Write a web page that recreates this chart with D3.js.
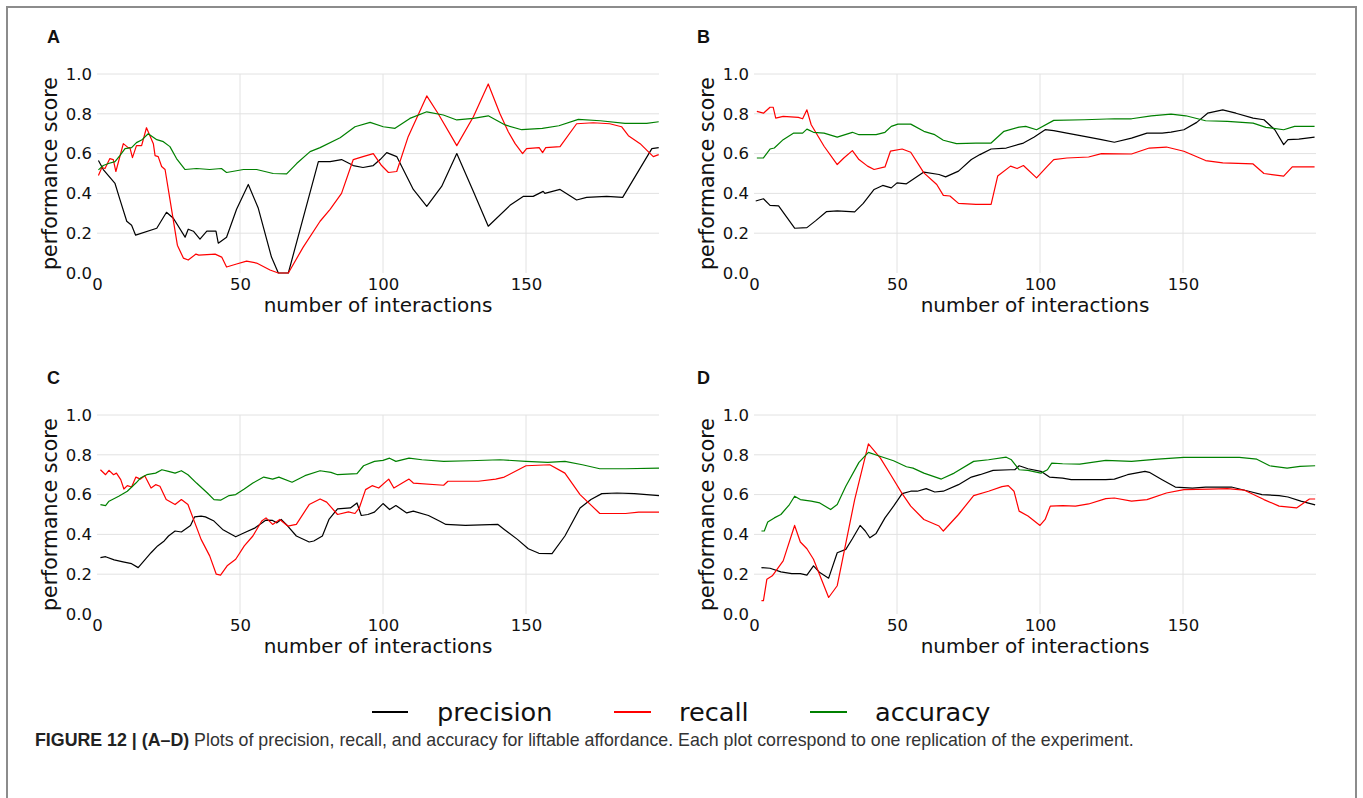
<!DOCTYPE html>
<html>
<head>
<meta charset="utf-8">
<script src="https://cdn.jsdelivr.net/npm/d3@7"></script>
<style>
  html, body { margin: 0; padding: 0; background: #fff; }
  svg { display: block; }
</style>
</head>
<body>
<svg id="chart" width="1363" height="798"></svg>
<script>
// ---------------- DATA ----------------
const panelLetters = ["A", "B", "C", "D"];
const seriesNames = ["precision", "recall", "accuracy"];
const xTicks = [0, 50, 100, 150];
const yTicks = [0.0, 0.2, 0.4, 0.6, 0.8, 1.0];
const xLabel = "number of interactions";
const yLabel = "performance score";
const captionBold = "FIGURE 12 | (A–D)";
const captionText = " Plots of precision, recall, and accuracy for liftable affordance. Each plot correspond to one replication of the experiment.";

// Panel A
const A_precision_x = [0.5, 2.2, 6.3, 8, 10.4, 12.1, 13.5, 20.9, 24.3, 26.7, 30.8, 31.9, 33.7, 36, 38.4, 41.6, 42.4, 45.3, 48.8, 52.9, 56.4, 61, 63.4, 66.9, 77.4, 81.5, 85.5, 89.6, 93, 96.6, 99, 101.3, 104.8, 110.6, 115.3, 120.5, 125.8, 131.6, 136.8, 144.4, 149, 152.5, 156, 156.6, 161.9, 167.7, 171.2, 178.2, 183.8, 194, 196.4];
const A_precision_y = [0.565, 0.52, 0.45, 0.37, 0.26, 0.24, 0.19, 0.225, 0.305, 0.275, 0.18, 0.22, 0.21, 0.17, 0.21, 0.21, 0.15, 0.18, 0.32, 0.445, 0.325, 0.08, 0.0, 0.0, 0.56, 0.56, 0.57, 0.54, 0.53, 0.54, 0.57, 0.605, 0.585, 0.42, 0.335, 0.435, 0.60, 0.41, 0.235, 0.34, 0.385, 0.385, 0.41, 0.40, 0.42, 0.367, 0.38, 0.385, 0.38, 0.625, 0.63];
const A_recall_x = [0.5, 1.7, 2.8, 4.5, 5.7, 6.6, 9.2, 10.9, 11.5, 12.4, 13.8, 15.6, 17.3, 19.7, 20.3, 21.4, 22.6, 23.8, 25.5, 28.1, 30.2, 31.9, 34.6, 35.6, 41.3, 43.6, 45.3, 48.8, 52.3, 55.8, 60.5, 63.4, 66.9, 72.1, 78, 81.5, 85.5, 89.6, 93, 96.6, 99.5, 101.9, 104.8, 108.8, 115.3, 119.3, 125.8, 131.6, 136.8, 140.9, 143.8, 146.2, 148.8, 150.2, 154.6, 155.8, 156.9, 161.9, 167.7, 173.5, 179.3, 183.4, 185.8, 189.9, 194.5, 196.4];
const A_recall_y = [0.49, 0.53, 0.525, 0.575, 0.57, 0.51, 0.65, 0.63, 0.63, 0.58, 0.64, 0.64, 0.73, 0.65, 0.59, 0.585, 0.535, 0.52, 0.37, 0.14, 0.075, 0.065, 0.095, 0.09, 0.095, 0.08, 0.03, 0.045, 0.06, 0.05, 0.015, 0.0, 0.0, 0.13, 0.26, 0.32, 0.40, 0.57, 0.585, 0.60, 0.54, 0.505, 0.51, 0.685, 0.89, 0.80, 0.64, 0.785, 0.95, 0.80, 0.71, 0.65, 0.60, 0.625, 0.63, 0.605, 0.63, 0.635, 0.75, 0.755, 0.75, 0.735, 0.69, 0.65, 0.585, 0.595];
const A_accuracy_x = [0.5, 2.2, 4, 6.3, 8, 9.8, 12.1, 13.8, 15.6, 17.9, 20.9, 23.2, 25.5, 27.8, 30.8, 34.8, 39.4, 43.5, 45.3, 51.2, 55.8, 61.6, 66.3, 69.8, 74.5, 78, 85, 90.2, 95.5, 100.1, 104.2, 109.4, 115.3, 121.1, 125.8, 131.6, 136.8, 142.7, 148.5, 155.7, 161.5, 168.3, 176, 184.6, 192.2, 196.4];
const A_accuracy_y = [0.518, 0.54, 0.55, 0.56, 0.59, 0.625, 0.63, 0.655, 0.668, 0.70, 0.67, 0.66, 0.635, 0.575, 0.52, 0.525, 0.52, 0.525, 0.505, 0.52, 0.52, 0.50, 0.498, 0.55, 0.61, 0.63, 0.68, 0.735, 0.757, 0.735, 0.727, 0.777, 0.81, 0.794, 0.769, 0.777, 0.79, 0.744, 0.72, 0.727, 0.74, 0.772, 0.765, 0.752, 0.752, 0.76];

// Panel B
const B_precision_x = [0.6, 3.3, 5.6, 8.6, 14.2, 18.5, 21.5, 25.3, 29.1, 35.2, 38.2, 42, 45, 48, 50, 53.3, 59.4, 64.7, 67, 71.5, 76, 79, 82.9, 88.2, 94.2, 98, 101.8, 104.8, 109.4, 115.5, 121.5, 126, 132, 137.4, 142.7, 145.8, 150.3, 154.8, 158.6, 163.9, 168.5, 174.5, 178.3, 182.1, 185.2, 186.7, 190.5, 196];
const B_precision_y = [0.362, 0.373, 0.34, 0.337, 0.225, 0.228, 0.262, 0.308, 0.312, 0.307, 0.35, 0.42, 0.44, 0.428, 0.453, 0.448, 0.507, 0.495, 0.483, 0.512, 0.57, 0.595, 0.623, 0.628, 0.653, 0.683, 0.72, 0.715, 0.703, 0.687, 0.67, 0.657, 0.678, 0.703, 0.703, 0.708, 0.72, 0.757, 0.803, 0.82, 0.803, 0.778, 0.77, 0.72, 0.645, 0.67, 0.673, 0.683];
const B_recall_x = [1, 3.3, 5.6, 6.7, 7.6, 10.2, 15.5, 17, 18.5, 20, 24.5, 29.1, 31.4, 34.4, 36.7, 39.7, 42, 45.8, 47.7, 51.8, 54.8, 59.4, 63.9, 66.2, 68.5, 71.5, 77.6, 82.9, 85.2, 89.7, 92, 94.2, 98.8, 102.6, 104.8, 109.4, 117, 121.5, 132, 138.2, 144.2, 150.3, 157.9, 163.9, 174.5, 178.3, 185.2, 188.2, 196];
const B_recall_y = [0.812, 0.803, 0.833, 0.833, 0.778, 0.787, 0.782, 0.775, 0.82, 0.745, 0.637, 0.545, 0.578, 0.615, 0.57, 0.537, 0.52, 0.533, 0.612, 0.623, 0.607, 0.503, 0.445, 0.39, 0.387, 0.35, 0.345, 0.345, 0.487, 0.537, 0.525, 0.54, 0.478, 0.537, 0.57, 0.578, 0.583, 0.60, 0.598, 0.628, 0.633, 0.612, 0.565, 0.553, 0.548, 0.50, 0.487, 0.533, 0.533];
const B_accuracy_x = [1, 3.3, 5.6, 7.1, 10.2, 13.9, 17, 18.5, 20.8, 24.5, 29.1, 34.4, 36.7, 42.7, 45.8, 48, 50.3, 54.8, 59.4, 63.2, 66.2, 70.8, 77.6, 82.9, 87.4, 92.7, 95, 98.8, 104.8, 115.5, 126, 132, 138.9, 145.8, 151, 157.9, 165.5, 174.5, 179, 185.2, 189, 196];
const B_accuracy_y = [0.578, 0.578, 0.623, 0.628, 0.67, 0.703, 0.703, 0.723, 0.707, 0.703, 0.683, 0.707, 0.695, 0.695, 0.707, 0.737, 0.748, 0.748, 0.712, 0.695, 0.667, 0.65, 0.653, 0.653, 0.712, 0.733, 0.737, 0.72, 0.767, 0.77, 0.775, 0.775, 0.79, 0.798, 0.79, 0.765, 0.762, 0.753, 0.732, 0.72, 0.737, 0.737];

// Panel C
const C_precision_x = [1.2, 3, 6, 9.1, 12.1, 14.4, 15.9, 18.9, 21.2, 23.5, 25, 27.3, 29.5, 32.7, 34.1, 36.4, 37.9, 40.9, 43.9, 48.5, 51.5, 55.3, 59.1, 61.4, 62.9, 64.4, 66.7, 69.7, 74.2, 75.8, 78.8, 81.1, 84.1, 88.6, 90.9, 92.4, 94.7, 97, 100, 102.3, 104.5, 108.3, 110.6, 115.9, 119.7, 122, 128.8, 140.2, 142.4, 147, 150.8, 154.5, 159.1, 163.6, 168.9, 172.7, 176.5, 181.8, 187.9, 196.5];
const C_precision_y = [0.283, 0.288, 0.272, 0.262, 0.253, 0.233, 0.258, 0.308, 0.342, 0.367, 0.392, 0.417, 0.412, 0.445, 0.488, 0.492, 0.488, 0.467, 0.425, 0.388, 0.408, 0.433, 0.472, 0.47, 0.458, 0.475, 0.442, 0.392, 0.362, 0.367, 0.392, 0.475, 0.528, 0.533, 0.558, 0.495, 0.50, 0.512, 0.555, 0.525, 0.545, 0.508, 0.517, 0.495, 0.467, 0.45, 0.445, 0.45, 0.425, 0.375, 0.328, 0.305, 0.303, 0.392, 0.533, 0.575, 0.605, 0.608, 0.605, 0.595];
const C_recall_x = [1.2, 3, 4.2, 5.8, 6.8, 8.3, 9.4, 10.6, 12.1, 13.6, 15.2, 16.7, 18.9, 20.5, 22, 24.2, 27.3, 29.5, 31.8, 36.4, 39.4, 41.7, 43.2, 45.5, 48.5, 51.5, 54.5, 57.6, 59.1, 61.4, 63.9, 66.7, 69.7, 74.2, 78, 80.3, 84.1, 87.9, 90.2, 91.7, 93.9, 96.2, 98.5, 102, 103.8, 109.1, 110.6, 121.2, 122.7, 133.3, 139.4, 142.4, 150, 158.3, 163.6, 168.9, 175.8, 184.8, 189.4, 196.5];
const C_recall_y = [0.725, 0.70, 0.722, 0.70, 0.708, 0.675, 0.628, 0.645, 0.638, 0.688, 0.678, 0.695, 0.633, 0.65, 0.642, 0.575, 0.55, 0.575, 0.55, 0.375, 0.292, 0.20, 0.195, 0.242, 0.275, 0.342, 0.392, 0.467, 0.483, 0.45, 0.475, 0.442, 0.45, 0.55, 0.578, 0.562, 0.50, 0.513, 0.505, 0.533, 0.625, 0.645, 0.633, 0.678, 0.633, 0.678, 0.658, 0.647, 0.667, 0.667, 0.678, 0.688, 0.745, 0.75, 0.708, 0.60, 0.505, 0.505, 0.512, 0.512];
const C_accuracy_x = [1.2, 3, 4.2, 7.6, 10.6, 13.6, 15.2, 17.4, 20.5, 22.7, 25, 27.3, 29.5, 31.8, 34.8, 38.6, 40.9, 43.2, 46.2, 48.5, 51.5, 54.5, 58.3, 61.4, 63.6, 68.2, 72.7, 78, 81.8, 84.1, 90.9, 93.2, 97, 100, 102.3, 104.5, 109.1, 113.6, 121.2, 130.3, 140.9, 150, 157.6, 163.6, 169.7, 175.8, 184.8, 196.5];
const C_accuracy_y = [0.55, 0.545, 0.567, 0.592, 0.617, 0.658, 0.683, 0.70, 0.708, 0.725, 0.717, 0.708, 0.72, 0.70, 0.658, 0.608, 0.575, 0.572, 0.595, 0.60, 0.628, 0.658, 0.688, 0.678, 0.688, 0.662, 0.695, 0.72, 0.712, 0.70, 0.705, 0.745, 0.767, 0.772, 0.783, 0.767, 0.783, 0.775, 0.767, 0.77, 0.775, 0.767, 0.762, 0.767, 0.75, 0.73, 0.73, 0.733];

// Panel D
const D_precision_x = [2.6, 5.6, 9.4, 13.2, 16.2, 18.5, 20.8, 23, 26.1, 29.1, 32.1, 34.4, 37.1, 38.9, 40.5, 42.7, 45.8, 48.8, 51.8, 54.8, 57.1, 60.2, 63.2, 66.2, 71.5, 76, 79, 83.6, 89.7, 91.2, 92.7, 95.8, 100.3, 103.3, 107.9, 110.9, 123, 126, 130.6, 136.7, 138.2, 142.7, 147.3, 153.3, 157.9, 166.9, 173, 177.6, 183.6, 186.7, 191.2, 196.2];
const D_precision_y = [0.233, 0.23, 0.212, 0.203, 0.203, 0.195, 0.242, 0.208, 0.18, 0.308, 0.325, 0.378, 0.445, 0.417, 0.383, 0.405, 0.483, 0.542, 0.605, 0.617, 0.617, 0.63, 0.613, 0.617, 0.65, 0.688, 0.70, 0.722, 0.725, 0.725, 0.745, 0.73, 0.717, 0.688, 0.683, 0.675, 0.675, 0.678, 0.70, 0.717, 0.712, 0.675, 0.638, 0.633, 0.638, 0.638, 0.617, 0.60, 0.595, 0.588, 0.567, 0.548];
const D_recall_x = [2.6, 3.3, 4.5, 6.4, 10.2, 14.2, 16.2, 18.5, 20.8, 26.1, 29.1, 35.2, 40, 44.2, 48, 51.8, 54.8, 59.4, 64.7, 66.2, 71.5, 76.8, 82, 86.7, 88.9, 90.9, 92.7, 95.8, 100, 101.8, 103.6, 107.9, 112.4, 117, 123, 126, 132, 137.4, 144.2, 150.3, 159.4, 165.5, 171.5, 178.3, 183.6, 189.7, 194.2, 196.2];
const D_recall_y = [0.067, 0.067, 0.175, 0.192, 0.267, 0.445, 0.362, 0.328, 0.275, 0.083, 0.142, 0.575, 0.855, 0.783, 0.695, 0.605, 0.542, 0.475, 0.442, 0.417, 0.50, 0.595, 0.617, 0.64, 0.645, 0.617, 0.517, 0.492, 0.445, 0.475, 0.542, 0.545, 0.542, 0.553, 0.58, 0.583, 0.567, 0.575, 0.608, 0.625, 0.628, 0.63, 0.622, 0.575, 0.542, 0.533, 0.578, 0.578];
const D_accuracy_x = [2.6, 3.6, 4.8, 7.1, 9.4, 12.4, 14.2, 16.2, 20, 23, 26.8, 29.1, 32.1, 36.7, 40, 43.5, 48.8, 53.3, 55.6, 59.4, 65.5, 70, 76.8, 82, 88.2, 90, 92.7, 95.8, 100.3, 102.6, 104.1, 107.9, 113.9, 123, 132, 141.2, 150.3, 169.7, 175.8, 180.3, 186.4, 190.9, 196.2];
const D_accuracy_y = [0.417, 0.417, 0.462, 0.483, 0.50, 0.55, 0.592, 0.575, 0.567, 0.558, 0.525, 0.55, 0.642, 0.762, 0.812, 0.795, 0.77, 0.74, 0.733, 0.708, 0.678, 0.708, 0.767, 0.775, 0.788, 0.775, 0.725, 0.722, 0.708, 0.725, 0.758, 0.755, 0.753, 0.772, 0.767, 0.778, 0.787, 0.787, 0.778, 0.745, 0.733, 0.742, 0.745];

// ---------------- BUILD ----------------
const dataByPanel = {
  A: { precision: [A_precision_x, A_precision_y], recall: [A_recall_x, A_recall_y], accuracy: [A_accuracy_x, A_accuracy_y] },
  B: { precision: [B_precision_x, B_precision_y], recall: [B_recall_x, B_recall_y], accuracy: [B_accuracy_x, B_accuracy_y] },
  C: { precision: [C_precision_x, C_precision_y], recall: [C_recall_x, C_recall_y], accuracy: [C_accuracy_x, C_accuracy_y] },
  D: { precision: [D_precision_x, D_precision_y], recall: [D_recall_x, D_recall_y], accuracy: [D_accuracy_x, D_accuracy_y] }
};
const colors = { precision: "#000000", recall: "#ff0000", accuracy: "#008000" };

const svg = d3.select("#chart");
const W = 1363, H = 798;

// figure frame
svg.append("path")
  .attr("d", `M7,${H + 5} L7,7 L1356,7 L1356,${H + 5}`)
  .attr("fill", "none").attr("stroke", "#8c8c8c").attr("stroke-width", 2);

const plotW = 562, plotH = 199;
const layout = {
  A: { left: 97, top: 74, lx: 47, ly: 43 },
  B: { left: 754, top: 74, lx: 697, ly: 43 },
  C: { left: 97, top: 415, lx: 47, ly: 384 },
  D: { left: 754, top: 415, lx: 697, ly: 384 }
};
const tickFont = "'DejaVu Sans', sans-serif";

panelLetters.forEach(p => {
  const L = layout[p];
  const x = d3.scaleLinear().domain([0, 196.5]).range([L.left, L.left + plotW]);
  const y = d3.scaleLinear().domain([0, 1]).range([L.top + plotH, L.top]);
  const g = svg.append("g");

  // grid
  g.selectAll(".hg").data(yTicks.filter(v => v > 0)).enter().append("line")
    .attr("x1", x(0)).attr("x2", x(196.5))
    .attr("y1", d => y(d)).attr("y2", d => y(d))
    .attr("stroke", "#e2e2e2").attr("stroke-width", 1);
  g.selectAll(".vg").data(xTicks.filter(v => v > 0)).enter().append("line")
    .attr("x1", d => x(d)).attr("x2", d => x(d))
    .attr("y1", y(0)).attr("y2", y(1))
    .attr("stroke", "#e2e2e2").attr("stroke-width", 1);

  // axes (labels only)
  const ax = g.append("g").attr("transform", `translate(0,${y(0)})`)
    .call(d3.axisBottom(x).tickValues(xTicks).tickFormat(d3.format("d")).tickSize(0).tickPadding(5));
  ax.select(".domain").remove();
  ax.selectAll("text").attr("font-family", tickFont).attr("font-size", 16.5).attr("fill", "#111")
    .attr("dy", "0.71em");
  const ay = g.append("g").attr("transform", `translate(${x(0)},0)`)
    .call(d3.axisLeft(y).tickValues(yTicks).tickFormat(d3.format(".1f")).tickSize(0).tickPadding(5));
  ay.select(".domain").remove();
  ay.selectAll("text").attr("font-family", tickFont).attr("font-size", 16.5).attr("fill", "#111");

  // axis titles
  g.append("text").attr("x", x(0) + plotW / 2).attr("y", y(0) + 39)
    .attr("text-anchor", "middle").attr("font-family", tickFont).attr("font-size", 20)
    .attr("fill", "#111").text(xLabel);
  g.append("text")
    .attr("transform", `translate(${x(0) - 40},${L.top + plotH / 2}) rotate(-90)`)
    .attr("text-anchor", "middle").attr("font-family", tickFont).attr("font-size", 20.5)
    .attr("fill", "#111").text(yLabel);

  // panel letter
  g.append("text").attr("x", L.lx).attr("y", L.ly)
    .attr("font-family", "'Liberation Sans', Arial, sans-serif").attr("font-weight", "bold")
    .attr("font-size", 18).attr("fill", "#111").text(p);

  // lines
  const line = d3.line().x(d => x(d[0])).y(d => y(d[1]));
  seriesNames.forEach(s => {
    const [xs, ys] = dataByPanel[p][s];
    const pts = xs.map((v, i) => [v, ys[i]]);
    g.append("path").datum(pts).attr("d", line)
      .attr("fill", "none").attr("stroke", colors[s]).attr("stroke-width", 1.2)
      .attr("stroke-linejoin", "round");
  });
});

// legend
const legendY = 712;
const legendItems = [
  { name: "precision", x1: 372, x2: 408, tx: 437 },
  { name: "recall", x1: 614, x2: 651, tx: 679 },
  { name: "accuracy", x1: 810, x2: 847, tx: 875 }
];
const lg = svg.append("g");
legendItems.forEach(it => {
  lg.append("line").attr("x1", it.x1).attr("x2", it.x2).attr("y1", legendY).attr("y2", legendY)
    .attr("stroke", colors[it.name]).attr("stroke-width", 2);
  lg.append("text").attr("x", it.tx).attr("y", legendY).attr("dy", "0.35em")
    .attr("font-family", tickFont).attr("font-size", 25.6).attr("fill", "#111").text(it.name);
});

// caption
const cap = svg.append("text").attr("x", 35).attr("y", 746)
  .attr("font-family", "'Liberation Sans', Arial, sans-serif").attr("font-size", 17.8);
cap.append("tspan").attr("font-weight", "bold").attr("fill", "#222").text(captionBold);
cap.append("tspan").attr("fill", "#333").text(captionText);
</script>
</body>
</html>
